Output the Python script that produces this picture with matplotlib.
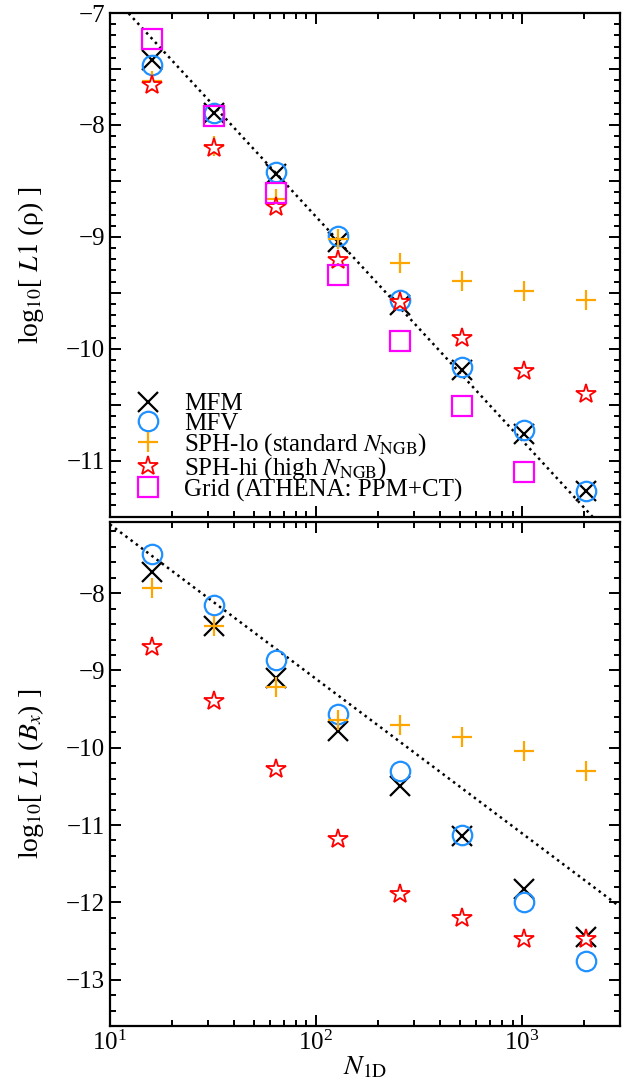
import matplotlib
matplotlib.use('Agg')
import matplotlib.pyplot as plt
from matplotlib.ticker import MultipleLocator, FuncFormatter, LogLocator, NullFormatter

plt.rcParams['font.family'] = ['Liberation Serif', 'DejaVu Serif']
plt.rcParams['mathtext.fontset'] = 'stix'

# resolution (1D) of each run
n1d = [16, 32, 64, 128, 256, 512, 1024, 2048]

# top panel: log10 L1(rho)
rho_mfm = [-7.42, -7.89, -8.44, -9.05, -9.61, -10.19, -10.76, -11.27]
rho_mfv = [-7.46, -7.89, -8.42, -8.99, -9.56, -10.16, -10.73, -11.27]
rho_sphlo = [-7.61, -8.19, -8.66, -9.02, -9.23, -9.39, -9.48, -9.56]
rho_sphhi = [-7.64, -8.21, -8.73, -9.21, -9.58, -9.90, -10.20, -10.40]
rho_grid = [-7.23, -7.92, -8.61, -9.34, -9.93, -10.51, -11.10]

# bottom panel: log10 L1(Bx)
bx_mfm = [-7.73, -8.42, -9.10, -9.79, -10.50, -11.14, -11.83, -12.45]
bx_mfv = [-7.49, -8.16, -8.86, -9.56, -10.30, -11.13, -12.00, -12.76]
bx_sphlo = [-7.94, -8.43, -9.22, -9.64, -9.71, -9.86, -10.04, -10.30]
bx_sphhi = [-8.70, -9.40, -10.28, -11.18, -11.89, -12.20, -12.47, -12.48]

# dotted reference lines (end points)
ref_x = [10, 3000]
ref_rho = [-6.82, -11.77]
ref_bx = [-7.11, -12.06]

labels = ['MFM', 'MFV', r'SPH-lo (standard $N_{\mathrm{NGB}}$)',
          r'SPH-hi (high $N_{\mathrm{NGB}}$)', 'Grid (ATHENA: PPM+CT)']

fs = 18
ms = 14
fig = plt.figure(figsize=(6.24, 10.9), dpi=100)
ax1 = fig.add_axes([0.176, 0.526, 0.818, 0.462])
ax2 = fig.add_axes([0.176, 0.0587, 0.818, 0.4624])


def minus(v, p):
    if abs(v - round(v)) > 1e-6:
        return ''
    return ('%d' % round(v)).replace('-', '\u2212')


ax1.plot(ref_x, ref_rho, color='black', lw=1.8, ls=(0, (1, 1.6)))
ax1.plot(n1d, rho_mfm, 'x', color='black', ms=ms, mew=1.6, label=labels[0])
ax1.plot(n1d, rho_mfv, 'o', color='#1e90ff', mfc='none', ms=ms, mew=1.6, label=labels[1])
ax1.plot(n1d, rho_sphlo, '+', color='orange', ms=ms, mew=1.6, label=labels[2])
ax1.plot(n1d, rho_sphhi, '*', color='red', mfc='white', ms=ms + 1, mew=1.3, label=labels[3])
ax1.plot(n1d[:7], rho_grid, 's', color='magenta', mfc='none', ms=ms, mew=1.6, label=labels[4])

ax2.plot(ref_x, ref_bx, color='black', lw=1.8, ls=(0, (1, 1.6)))
ax2.plot(n1d, bx_mfm, 'x', color='black', ms=ms, mew=1.6)
ax2.plot(n1d, bx_mfv, 'o', color='#1e90ff', mfc='none', ms=ms, mew=1.6)
ax2.plot(n1d, bx_sphlo, '+', color='orange', ms=ms, mew=1.6)
ax2.plot(n1d, bx_sphhi, '*', color='red', mfc='white', ms=ms + 1, mew=1.3)

ax1.set_ylim(-11.5, -7)
ax2.set_ylim(-13.6, -7.08)
ax1.yaxis.set_major_locator(MultipleLocator(0.5))
ax1.yaxis.set_minor_locator(MultipleLocator(0.1))
ax2.yaxis.set_major_locator(MultipleLocator(1))
ax2.yaxis.set_minor_locator(MultipleLocator(0.2))

for ax in (ax1, ax2):
    ax.set_xscale('log')
    ax.set_xlim(10, 3000)
    ax.xaxis.set_major_locator(LogLocator(base=10))
    ax.xaxis.set_minor_locator(LogLocator(base=10, subs=range(2, 10)))
    ax.xaxis.set_minor_formatter(NullFormatter())
    ax.yaxis.set_major_formatter(FuncFormatter(minus))
    ax.tick_params(which='both', direction='in', top=True, right=True, labelsize=fs, width=1.4)
    ax.tick_params(which='major', length=8)
    ax.tick_params(which='minor', length=4.5)
    for s in ax.spines.values():
        s.set_linewidth(1.6)

ax1.tick_params(axis='x', labelbottom=False)
ax1.set_ylabel('log$_{10}$[ $L1$ (ρ) ]', fontsize=fs + 2)
ax2.set_ylabel('log$_{10}$[ $L1$ ($B_x$) ]', fontsize=fs + 2)
ax2.set_xlabel(r'$N_{\mathrm{1D}}$', fontsize=fs + 2, labelpad=0)
ax1.yaxis.set_label_coords(-0.125, 0.5)
ax2.yaxis.set_label_coords(-0.125, 0.5)

ax1.legend(loc='lower left', frameon=False, fontsize=fs, labelspacing=-0.13,
           handletextpad=0.85, handlelength=1.2, borderaxespad=0.0,
           bbox_to_anchor=(0.025, 0.01))

fig.savefig('out.png', dpi=100)
